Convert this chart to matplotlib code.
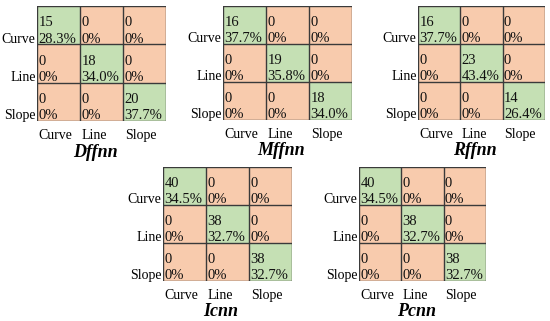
import matplotlib
matplotlib.use("Agg")
import matplotlib.pyplot as plt
import numpy as np
from matplotlib.colors import ListedColormap

plt.rcParams['font.family'] = ['Liberation Serif', 'DejaVu Serif']

classes = ["Curve", "Line", "Slope"]
titles = ["Dffnn", "Mffnn", "Rffnn", "Icnn", "Pcnn"]

counts_dffnn = [[15, 0, 0], [0, 18, 0], [0, 0, 20]]
counts_mffnn = [[16, 0, 0], [0, 19, 0], [0, 0, 18]]
counts_rffnn = [[16, 0, 0], [0, 23, 0], [0, 0, 14]]
counts_icnn = [[40, 0, 0], [0, 38, 0], [0, 0, 38]]
counts_pcnn = [[40, 0, 0], [0, 38, 0], [0, 0, 38]]

pct_dffnn = [[28.3, 0, 0], [0, 34.0, 0], [0, 0, 37.7]]
pct_mffnn = [[37.7, 0, 0], [0, 35.8, 0], [0, 0, 34.0]]
pct_rffnn = [[37.7, 0, 0], [0, 43.4, 0], [0, 0, 26.4]]
pct_icnn = [[34.5, 0, 0], [0, 32.7, 0], [0, 0, 32.7]]
pct_pcnn = [[34.5, 0, 0], [0, 32.7, 0], [0, 0, 32.7]]

counts_all = [counts_dffnn, counts_mffnn, counts_rffnn, counts_icnn, counts_pcnn]
pct_all = [pct_dffnn, pct_mffnn, pct_rffnn, pct_icnn, pct_pcnn]

# panel boxes in pixels: left, right, top, bottom
boxes = [(37, 166, 6, 121), (223, 352, 6, 120), (418, 545, 6, 120),
         (163, 292, 167, 281), (359, 486, 167, 281)]

W, H = 550, 321
fig = plt.figure(figsize=(W / 100, H / 100), dpi=100)
cmap = ListedColormap(["#f8cbad", "#c5e0b4"])
edge = "#3a3a3a"

for counts, pct, title, (l, r, t, b) in zip(counts_all, pct_all, titles, boxes):
    ax = fig.add_axes([l / W, 1 - b / H, (r - l) / W, (b - t) / H])
    c = np.array(counts)
    p = np.array(pct)
    ax.imshow((c > 0).astype(int), cmap=cmap, vmin=0, vmax=1, aspect='auto',
              extent=(-0.5, 2.5, 2.5, -0.5))
    for k in range(4):
        ax.axhline(k - 0.5, color=edge, lw=1.0)
        ax.axvline(k - 0.5, color=edge, lw=1.0)
    for i in range(3):
        for j in range(3):
            ps = "0%" if p[i, j] == 0 else f"{p[i, j]:.1f}%"
            ax.text(j - 0.5 + 0.03, i + 0.03, str(c[i, j]), ha='left', va='baseline',
                    fontsize=10.5, color='#111111')
            ax.text(j - 0.5 + 0.03, i + 0.46, ps, ha='left', va='baseline',
                    fontsize=10.5, color='#111111')
    ax.set_xlim(-0.5, 2.5)
    ax.set_ylim(2.5, -0.5)
    ax.set_xticks(np.arange(3) - 0.5 + 0.04)
    ax.set_xticklabels(classes, fontsize=10, ha='left')
    ax.set_yticks(np.arange(3) + 0.46)
    ax.set_yticklabels(classes, fontsize=10, va='baseline')
    ax.tick_params(length=0, pad=1)
    ax.tick_params(axis='x', pad=6)
    for s in ax.spines.values():
        s.set_visible(False)
    ax.text(0.45, -0.27, title, transform=ax.transAxes, ha='center', va='center',
            fontsize=13, fontweight='bold', fontstyle='italic')

fig.savefig("out.png", dpi=100)
